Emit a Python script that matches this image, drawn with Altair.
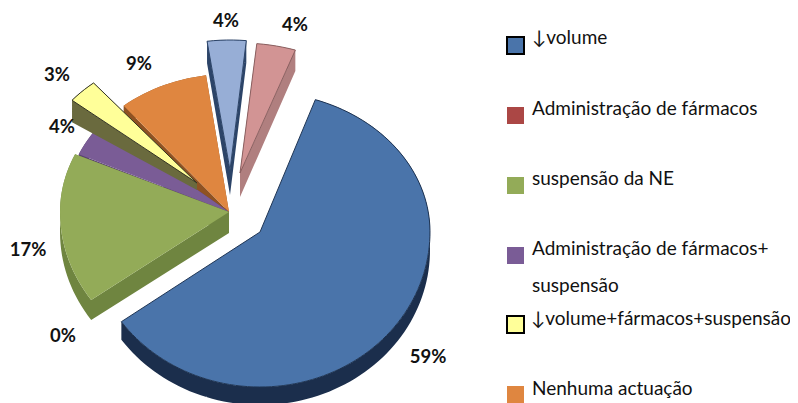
import math
import altair as alt

# ---- chart values
names = ["↓volume", "Administração de fármacos", "suspensão da NE",
         "Administração de fármacos+ suspensão", "↓volume+fármacos+suspensão",
         "Nenhuma actuação", "outra 1", "outra 2"]
values = [59.9, 0.0, 16.6, 4.2, 3.0, 8.8, 3.8, 3.7]
pct_labels = ["59%", "0%", "17%", "4%", "3%", "9%", "4%", "4%"]
top_colors = ["#4a74aa", "#ab4745", "#93ab58", "#7a5c96", "#ffff99", "#df8640", "#97aed6", "#d29494"]
wall_colors = ["#1b2e4c", "#7a3231", "#6f8540", "#5a4470", "#6a6a3e", "#8f5222", "#2c4468", "#b07f7f"]

# ---- layout (page pixels)
M = 8
W, H = 782, 395
START = 19.0
# slice index: cx, cy, a, b_up, b_down, depth_apex, depth_outer, radial walls, outline
geom = {
    0: (260, 232, 170, 140, 155, 17, 18, False, "#1f3554"),
    2: (229, 212, 169, 140, 152, 21, 20, True, None),
    3: (229, 212, 165, 140, 152, 21, 20, True, None),
    4: (197, 183, 162, 130, 150, 7, 22, True, "#333322"),
    5: (229, 212, 165, 138, 152, 21, 20, True, None),
    6: (230, 170, 165, 130, 150, 25, 22, True, "#2c4468"),
    7: (240, 173, 170, 130, 150, 24, 21, True, "#8a6060"),
}
draw_order = [6, 7, 5, 3, 4, 2, 0]

label_pos = [(428, 357), (63, 336), (28, 250), (62, 127), (57, 75), (139, 64), (226, 21), (295, 25)]
legend_rows = [
    ("↓volume", 532, 38), ("Administração de fármacos", 532, 109), ("suspensão da NE", 532, 179),
    ("Administração de fármacos+", 532, 249), ("suspensão", 532, 286),
    ("↓volume+fármacos+suspensão", 531, 319), ("Nenhuma actuação", 532, 389),
]
swatches = [
    (0, 515.5, 45.5, True), (1, 515.5, 115.5, False), (2, 515.5, 185.5, False),
    (3, 515.5, 255.5, False), (4, 515.5, 324.5, True), (5, 515.5, 394.5, False),
]

# ---- geometry
angles = []
acc = START
for v in values:
    angles.append((acc, acc + v * 3.6))
    acc += v * 3.6


def pt(g, deg, frac=1.0):
    cx, cy, a, bu, bd = g[:5]
    t = math.radians(deg)
    s, c = math.sin(t), math.cos(t)
    return (cx + frac * a * s, cy - frac * (bu if c >= 0 else bd) * c)


def feature(rings, fill, stroke, sw):
    coords = [[[[x - M, y - M] for x, y in ring]] for ring in rings]
    return {"type": "Feature",
            "geometry": {"type": "MultiPolygon", "coordinates": coords},
            "properties": {"fill": fill, "stroke": stroke or fill, "sw": sw if stroke else 0}}


def quad(p, q, dp, dq):
    ring = [p, q, (q[0], q[1] + dq), (p[0], p[1] + dp), p]
    area = sum(ring[i][0] * ring[i + 1][1] - ring[i + 1][0] * ring[i][1] for i in range(4))
    return ring if area > 0 else ring[::-1]


features = []
for i in draw_order:
    g = geom[i]
    a0, a1 = angles[i]
    n = max(3, int((a1 - a0) / 2))
    arc = [pt(g, a0 + (a1 - a0) * k / n) for k in range(n + 1)]
    apex = (g[0], g[1])
    da, do, radial, outline = g[5], g[6], g[7], g[8]
    quads = [quad(arc[k], arc[k + 1], do, do) for k in range(n)]
    if radial:
        quads.append(quad(apex, arc[0], da, do))
        quads.append(quad(apex, arc[-1], da, do))
    features.append(feature(quads, wall_colors[i], None, 0))
    features.append(feature([[apex] + arc + [apex]], top_colors[i], outline, 1))

pie = alt.Chart(alt.Data(values=features)).mark_geoshape().encode(
    fill=alt.Fill("properties.fill:N", scale=None),
    stroke=alt.Stroke("properties.stroke:N", scale=None),
    strokeWidth=alt.StrokeWidth("properties.sw:Q", scale=None),
).project(type="identity", scale=1, translate=[0, 0])

xs = alt.Scale(domain=[0, W], range=[0, W])
ys = alt.Scale(domain=[0, H], range=[0, H])
X = alt.X("x:Q", scale=xs, axis=None)
Y = alt.Y("y:Q", scale=ys, axis=None)

labels = alt.Chart(alt.Data(values=[
    {"t": t, "x": p[0] - M, "y": p[1] - M} for t, p in zip(pct_labels, label_pos)
])).mark_text(font="Lato", fontWeight="bold", fontSize=18.5, color="#111111",
              align="center", baseline="middle").encode(x=X, y=Y, text="t:N")

legend_text = alt.Chart(alt.Data(values=[
    {"t": t, "x": x - M, "y": y - M} for t, x, y in legend_rows
])).mark_text(font="Lato", fontSize=19, color="#111111",
              align="left", baseline="middle").encode(x=X, y=Y, text="t:N")

swatch_rows = [{"x": x - M, "y": y - M, "f": top_colors[i], "s": "#000000" if o else top_colors[i],
                "w": 2 if o else 0} for i, x, y, o in swatches]
legend_marks = alt.Chart(alt.Data(values=swatch_rows)).mark_point(
    shape="square", size=289, filled=True, opacity=1).encode(
    x=X, y=Y,
    fill=alt.Fill("f:N", scale=None),
    stroke=alt.Stroke("s:N", scale=None),
    strokeWidth=alt.StrokeWidth("w:Q", scale=None),
)

chart = alt.layer(pie, labels, legend_marks, legend_text).resolve_scale(
    x="shared", y="shared"
).properties(width=W, height=H, padding=0, autosize=alt.AutoSizeParams(type="none"),
             background="#ffffff").configure_view(stroke=None)

chart.save("out.html", embed_options={"renderer": "svg", "actions": False})
